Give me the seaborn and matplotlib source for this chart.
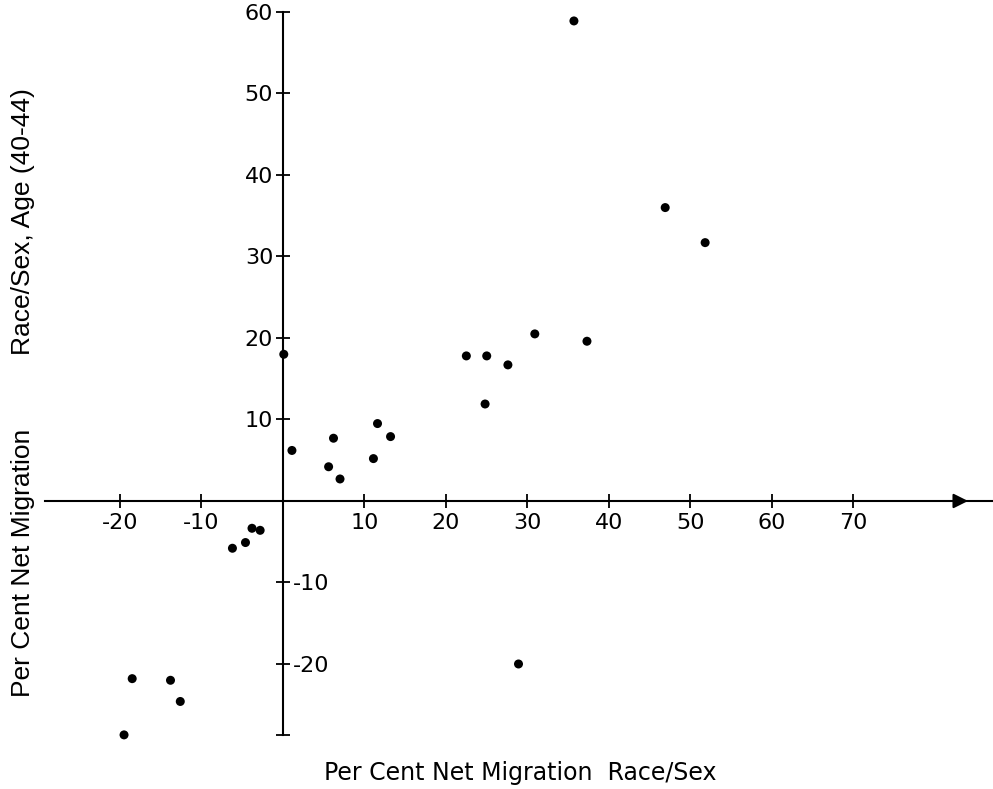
import pandas as pd
import seaborn as sns
import matplotlib.pyplot as plt

# Per cent net migration, race/sex (x) vs race/sex age 40-44 (y)
race_sex = [35.7, 46.9, 51.8,
            0.1, 1.1, 6.2, 5.6, 7.0, 11.1, 11.6, 13.2,
            22.5, 25.0, 27.6, 24.8, 30.9, 37.3,
            -3.8, -2.8, -4.6, -6.2,
            -18.5, -13.8, -12.6, -19.5, 28.9]
age_40_44 = [58.9, 36.0, 31.7,
             18.0, 6.2, 7.7, 4.2, 2.7, 5.2, 9.5, 7.9,
             17.8, 17.8, 16.7, 11.9, 20.5, 19.6,
             -3.35, -3.6, -5.1, -5.8,
             -21.8, -22.0, -24.6, -28.7, -20.0]

x_ticks = [-20, -10, 10, 20, 30, 40, 50, 60, 70]
y_ticks = [-20, -10, 10, 20, 30, 40, 50, 60]

df = pd.DataFrame({'x': race_sex, 'y': age_40_44})

sns.set_style('white')
plt.rcParams['font.family'] = ['DejaVu Sans']

fig = plt.figure(figsize=(9.93, 7.89), dpi=100)
ax = fig.add_axes([0, 0, 1, 1])
sns.scatterplot(x='x', y='y', data=df, ax=ax, color='black', s=42,
                edgecolor='none', zorder=3)

ax.set_xlim(-34.72, 87.12)
ax.set_ylim(-35.34, 61.47)

# axes cross at the origin
ax.spines['top'].set_visible(False)
ax.spines['left'].set_position(('data', 0))
ax.spines['bottom'].set_position(('data', 0))
ax.spines['right'].set_position(('data', 0))
ax.spines['right'].set_visible(False)
ax.spines['left'].set_bounds(-28.7, 60)
ax.spines['bottom'].set_bounds(-29.2, 87.12)
for side in ['left', 'bottom']:
    ax.spines[side].set_color('black')
    ax.spines[side].set_linewidth(1.5)

ax.set_xticks(x_ticks)
ax.set_xticklabels([str(v) for v in x_ticks])
ax.set_yticks(y_ticks)
ax.set_yticklabels([str(v) for v in y_ticks])
ax.set_yticks([-28.7], minor=True)

ax.tick_params(axis='both', which='both', direction='inout', length=10,
               width=1.3, color='black', labelsize=16, labelcolor='black')
ax.tick_params(axis='x', which='both', bottom=True, pad=4)
ax.tick_params(axis='y', which='both', left=True, right=False, pad=2,
               labelright=True)
for t, v in zip(ax.yaxis.get_major_ticks(), y_ticks):
    t.label1.set_visible(v > 0)
    t.label2.set_visible(v < 0)

# arrow head on the x axis
ax.annotate('', xy=(84.4, 0), xytext=(82.4, 0),
            arrowprops=dict(arrowstyle='-|>', color='black', lw=1.5,
                            mutation_scale=22))

ax.set_xlabel('')
ax.set_ylabel('')
fig.text(0.524, 0.02, 'Per Cent Net Migration  Race/Sex', ha='center',
         va='center', fontsize=17, color='black')
fig.text(0.023, 0.5025,
         'Per Cent Net Migration          Race/Sex, Age (40-44)',
         ha='center', va='center', rotation=90, fontsize=19,
         family=['Liberation Sans'], color='black')

fig.savefig('out.png', dpi=100)
